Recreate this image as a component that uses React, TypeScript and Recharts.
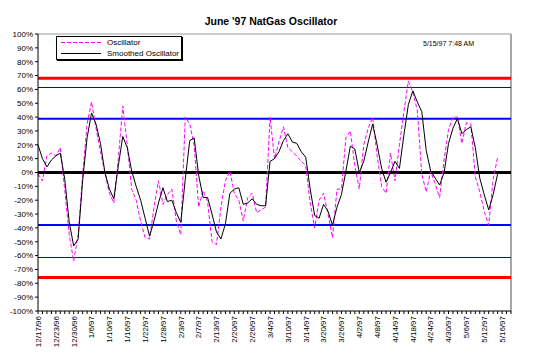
import { LineChart, Line, XAxis, YAxis, ReferenceLine } from 'recharts'

// oscillator values (%), one per trading day from 12/17/96 to 5/15/97
const OSC = [
  -1, -6, 12, 14, 12, 18, -13, -45, -64, -45,
  -2, 35, 51, 32, 15, 0, -15, -22, 10, 48,
  20, -12, -20, -35, -47, -48, -25, -6, -23, -16,
  -12, -35, -45, 40, 35, 20, -25, -13, -21, -50,
  -52, -25, -6, 1, -15, -20, -35, -18, -15, -29,
  -27, -25, 40, 10, 22, 33, 18, 15, 12, 8,
  5, -22, -40, -20, -15, -30, -47, -12, -12, 25,
  30, 5, -12, 20, 32, 40, 12, -10, -15, 14,
  -6, 20, 44, 66, 58, 45, -1, -14, 1, -8,
  -18, 9, 31, 40, 40, 21, 36, 35, -3, -14,
  -28, -38, -5, 11,
]

const SMOOTH = [
  20, 10, 4, 9, 12, 14, -5, -36, -53, -48,
  -6, 25, 43, 35, 21, 0, -12, -19, 5, 26,
  18, 1, -10, -20, -33, -46, -35, -22, -11, -21,
  -20, -29, -36, -5, 23, 25, -2, -18, -18, -30,
  -43, -48, -37, -15, -12, -11, -23, -22, -19, -23,
  -24, -24, 8, 10, 15, 23, 28, 22, 21, 15,
  11, -12, -31, -33, -23, -28, -38, -25, -16, 1,
  19, 17, 0, 8, 22, 35, 20, 3, -7, 0,
  8, 3, 27, 49, 59, 51, 44, 16, 1, -4,
  -9, 0, 21, 32, 39, 28, 31, 33, 18, -4,
  -16, -27, -16, -1,
]

// every 4th trading day gets a label
const DATE_LABELS = [
  '12/17/96', '12/23/96', '12/30/96', '1/6/97', '1/10/97', '1/16/97', '1/22/97',
  '1/28/97', '2/3/97', '2/7/97', '2/13/97', '2/20/97', '2/26/97', '3/4/97',
  '3/10/97', '3/14/97', '3/20/97', '3/26/97', '4/2/97', '4/8/97', '4/14/97',
  '4/18/97', '4/24/97', '4/30/97', '5/6/97', '5/12/97', '5/16/97',
]

const N_CATS = 107
const Y_TICKS = [-100, -90, -80, -70, -60, -50, -40, -30, -20, -10, 0, 10, 20, 30, 40, 50, 60, 70, 80, 90, 100]
const RED_LEVELS = [68.1, -75.8]
const OUTER_BANDS = [61.7, -61.7]
const INNER_BANDS = [38.8, -37.9]

const data = Array.from({ length: N_CATS }, (_, i) => ({
  i,
  osc: OSC[i] ?? null,
  smooth: SMOOTH[i] ?? null,
}))

const FONT = "'Liberation Sans', Arial, sans-serif"

function DateTick(props: any) {
  const { x, y, payload } = props
  const i = payload.value
  const label = i % 4 === 0 ? DATE_LABELS[i / 4] : undefined
  if (!label) return <g />
  return (
    <text
      transform={`translate(${x},${y}) rotate(-90)`}
      textAnchor="end"
      dy="0.35em"
      fontSize={8}
      fontFamily={FONT}
      fill="#000"
    >
      {label}
    </text>
  )
}

export default function App() {
  return (
    <div style={{ position: 'absolute', left: 0, top: 0, width: 538, height: 355, background: '#fff', fontFamily: FONT }}>
      <div style={{ position: 'absolute', left: 0, width: 538, top: 15, textAlign: 'center', fontSize: 10.5, fontWeight: 'bold', color: '#000', lineHeight: '12px', paddingLeft: 2 }}>
        June '97 NatGas Oscillator
      </div>

      <LineChart width={538} height={355} data={data} margin={{ top: 34, right: 27, bottom: 0, left: 0 }}>
        <XAxis
          dataKey="i"
          type="category"
          scale="point"
          interval={0}
          height={44}
          tickSize={3}
          tick={<DateTick />}
          axisLine={{ stroke: '#000' }}
          tickLine={{ stroke: '#000' }}
        />
        <YAxis
          type="number"
          domain={[-100, 100]}
          ticks={Y_TICKS}
          interval={0}
          width={38}
          tickSize={3}
          tickFormatter={(v) => `${v}%`}
          tick={{ fontSize: 8, fill: '#000', fontFamily: FONT }}
          axisLine={{ stroke: '#000' }}
          tickLine={{ stroke: '#000' }}
        />

        {/* plot area frame */}
        <ReferenceLine y={100} stroke="#9a9a9a" strokeWidth={1} />
        <ReferenceLine x={N_CATS - 1} stroke="#a8a8a8" strokeWidth={2} />

        {RED_LEVELS.map((v) => (
          <ReferenceLine key={`r${v}`} y={v} stroke="#ff0000" strokeWidth={3} />
        ))}
        {OUTER_BANDS.map((v) => (
          <ReferenceLine key={`o${v}`} y={v} stroke="#0000ff" strokeWidth={1} shapeRendering="crispEdges" />
        ))}
        {INNER_BANDS.map((v) => (
          <ReferenceLine key={`b${v}`} y={v} stroke="#0000ff" strokeWidth={2} />
        ))}
        <ReferenceLine y={0} stroke="#000" strokeWidth={3} />

        <Line
          type="linear"
          dataKey="osc"
          stroke="#ff00ff"
          strokeWidth={1}
          strokeDasharray="4 2"
          dot={false}
          isAnimationActive={false}
        />
        <Line
          type="linear"
          dataKey="smooth"
          stroke="#000"
          strokeWidth={1}
          dot={false}
          isAnimationActive={false}
        />
      </LineChart>

      <div style={{ position: 'absolute', left: 423, top: 39, fontSize: 7, color: '#000', lineHeight: '9px', whiteSpace: 'nowrap' }}>
        5/15/97 7:48 AM
      </div>

      {/* legend */}
      <div style={{ position: 'absolute', left: 56, top: 36, width: 124, height: 22, border: '1px solid #000', boxShadow: '1px 1px 0 #000', background: '#fff', fontSize: 8, color: '#000' }}>
        <svg width={42} height={22} style={{ position: 'absolute', left: 3, top: 0 }}>
          <line x1={1} y1={5.5} x2={41} y2={5.5} stroke="#ff00ff" strokeDasharray="4 2" />
          <line x1={1} y1={16.5} x2={41} y2={16.5} stroke="#000" />
        </svg>
        <div style={{ position: 'absolute', left: 50, top: 1, lineHeight: '10px', whiteSpace: 'nowrap' }}>Oscillator</div>
        <div style={{ position: 'absolute', left: 50, top: 12, lineHeight: '10px', whiteSpace: 'nowrap' }}>Smoothed Oscillator</div>
      </div>
    </div>
  )
}
